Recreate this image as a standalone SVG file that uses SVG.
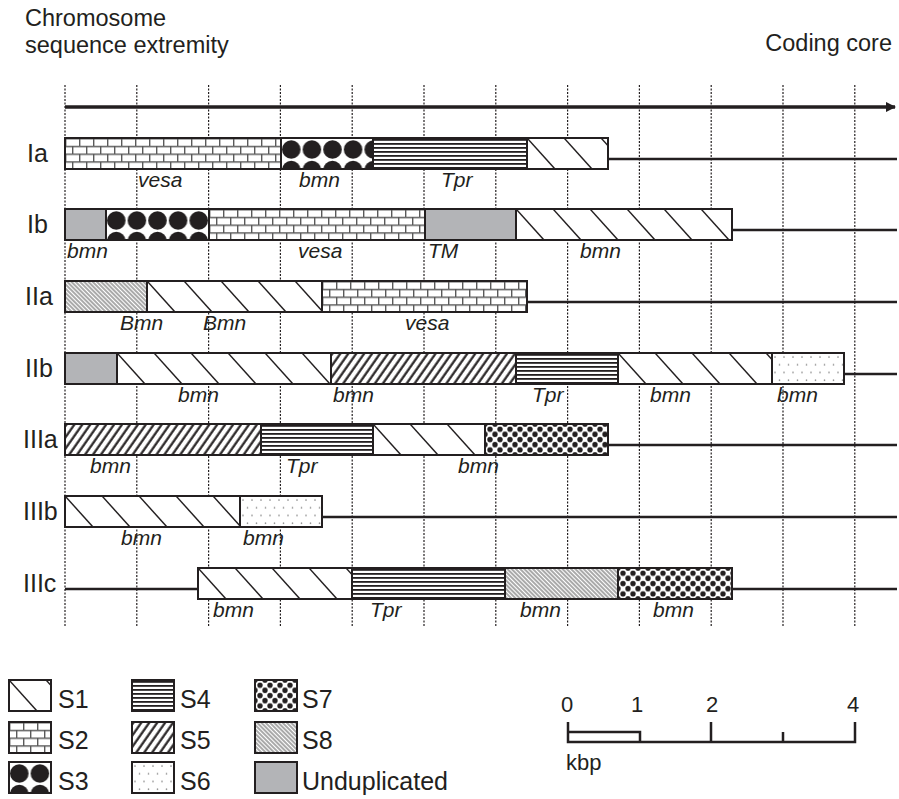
<svg xmlns="http://www.w3.org/2000/svg" width="899" height="799" viewBox="0 0 899 799">
<style>
text{font-family:"Liberation Sans",Arial,sans-serif;fill:#231f20}
.hdr{font-size:23.5px}
.rl{font-size:25px}
.gl{font-size:21px;font-style:italic}
.lg{font-size:25px}
.sc{font-size:22px}
.seg{stroke:#231f20;stroke-width:2}
.grid{stroke:#231f20;stroke-width:1.2;stroke-dasharray:2 1.5}
.rline{stroke:#231f20;stroke-width:2.5}
</style>
<defs>
<pattern id="s1" patternUnits="userSpaceOnUse" width="37" height="31">
<rect width="37" height="31" fill="#fff"/>
<line x1="0" y1="0" x2="28" y2="31" stroke="#231f20" stroke-width="1.5"/>
</pattern>
<pattern id="s2" patternUnits="userSpaceOnUse" width="14" height="15.5">
<rect width="14" height="15.5" fill="#fff"/>
<path d="M0,0.7H14M0,8.45H14M0.7,0.7V8.45M7.7,8.45V15.5" stroke="#5a5a5a" stroke-width="1.4" fill="none"/>
</pattern>
<pattern id="s3" patternUnits="userSpaceOnUse" width="20.6" height="31">
<rect width="20.6" height="31" fill="#fff"/>
<circle cx="10.3" cy="11.5" r="9.3" fill="#231f20"/>
<circle cx="10.3" cy="32" r="9.3" fill="#231f20"/>
</pattern>
<pattern id="s4" patternUnits="userSpaceOnUse" width="10" height="4">
<rect width="10" height="4" fill="#fff"/>
<rect y="1" width="10" height="1.8" fill="#231f20"/>
</pattern>
<pattern id="s5" patternUnits="userSpaceOnUse" width="6.5" height="10" patternTransform="rotate(35)">
<rect width="6.5" height="10" fill="#fff"/>
<line x1="1.5" y1="0" x2="1.5" y2="10" stroke="#231f20" stroke-width="2.2"/>
</pattern>
<pattern id="s6" patternUnits="userSpaceOnUse" width="18" height="15.5">
<rect width="18" height="15.5" fill="#fff"/>
<g fill="#8a8a8a"><circle cx="3" cy="4" r="0.8"/><circle cx="12" cy="4" r="0.8"/><circle cx="7.5" cy="11.75" r="0.8"/><circle cx="16.5" cy="11.75" r="0.8"/></g>
</pattern>
<pattern id="s7" patternUnits="userSpaceOnUse" width="10" height="10.33">
<rect width="10" height="10.33" fill="#fff"/>
<g fill="#231f20"><circle cx="0" cy="0" r="2.7"/><circle cx="10" cy="0" r="2.7"/><circle cx="0" cy="10.33" r="2.7"/><circle cx="10" cy="10.33" r="2.7"/><circle cx="5" cy="5.17" r="2.7"/></g>
</pattern>
<pattern id="s8" patternUnits="userSpaceOnUse" width="3" height="10" patternTransform="rotate(-45)">
<rect width="3" height="10" fill="#fff"/>
<line x1="1" y1="0" x2="1" y2="10" stroke="#555" stroke-width="1"/>
</pattern>
<marker id="arr" viewBox="0 0 10 10" refX="9" refY="5" markerWidth="3" markerHeight="3" orient="auto" markerUnits="strokeWidth">
<path d="M0,0L10,5L0,10z" fill="#231f20"/>
</marker>
</defs>
<rect width="899" height="799" fill="#fff"/>

<g id="header">
<text class="hdr" x="25" y="26">Chromosome</text>
<text class="hdr" x="25" y="53">sequence extremity</text>
<text class="hdr" x="892" y="51" text-anchor="end">Coding core</text>
</g>

<g id="grid">
<line class="grid" x1="65" y1="85" x2="65" y2="627"/>
<line class="grid" x1="136.8" y1="85" x2="136.8" y2="627"/>
<line class="grid" x1="208.6" y1="85" x2="208.6" y2="627"/>
<line class="grid" x1="280.4" y1="85" x2="280.4" y2="627"/>
<line class="grid" x1="352.2" y1="85" x2="352.2" y2="627"/>
<line class="grid" x1="424" y1="85" x2="424" y2="627"/>
<line class="grid" x1="495.8" y1="85" x2="495.8" y2="627"/>
<line class="grid" x1="567.6" y1="85" x2="567.6" y2="627"/>
<line class="grid" x1="639.4" y1="85" x2="639.4" y2="627"/>
<line class="grid" x1="711.2" y1="85" x2="711.2" y2="627"/>
<line class="grid" x1="783" y1="85" x2="783" y2="627"/>
<line class="grid" x1="854.8" y1="85" x2="854.8" y2="627"/>
</g>

<g id="axis">
<line x1="65" y1="107" x2="895" y2="107" stroke="#231f20" stroke-width="3.5" marker-end="url(#arr)"/>
</g>

<g id="row-Ia" transform="translate(0,138)">
<text class="rl" x="27" y="24">Ia</text>
<line class="rline" x1="608" y1="21" x2="897" y2="21"/>
<rect class="seg" transform="translate(65,0)" width="216" height="31" fill="url(#s2)"/>
<rect class="seg" transform="translate(281,0)" width="92" height="31" fill="url(#s3)"/>
<rect class="seg" transform="translate(373,0)" width="154" height="31" fill="url(#s4)"/>
<rect class="seg" transform="translate(527,0)" width="81" height="31" fill="url(#s1)"/>
<text class="gl" x="138" y="49">vesa</text>
<text class="gl" x="299" y="49">bmn</text>
<text class="gl" x="441" y="49">Tpr</text>
</g>

<g id="row-Ib" transform="translate(0,209)">
<text class="rl" x="27" y="24">Ib</text>
<line class="rline" x1="732" y1="21" x2="897" y2="21"/>
<rect class="seg" transform="translate(65,0)" width="41" height="31" fill="#b3b4b7"/>
<rect class="seg" transform="translate(106,0)" width="103" height="31" fill="url(#s3)"/>
<rect class="seg" transform="translate(209,0)" width="216" height="31" fill="url(#s2)"/>
<rect class="seg" transform="translate(425,0)" width="91" height="31" fill="#b3b4b7"/>
<rect class="seg" transform="translate(516,0)" width="216" height="31" fill="url(#s1)"/>
<text class="gl" x="67" y="49">bmn</text>
<text class="gl" x="298" y="49">vesa</text>
<text class="gl" x="428" y="49">TM</text>
<text class="gl" x="580" y="49">bmn</text>
</g>

<g id="row-IIa" transform="translate(0,281)">
<text class="rl" x="25" y="24">IIa</text>
<line class="rline" x1="527" y1="21" x2="897" y2="21"/>
<rect class="seg" transform="translate(65,0)" width="82" height="31" fill="url(#s8)"/>
<rect class="seg" transform="translate(147,0)" width="175" height="31" fill="url(#s1)"/>
<rect class="seg" transform="translate(322,0)" width="205" height="31" fill="url(#s2)"/>
<text class="gl" x="120" y="49">Bmn</text>
<text class="gl" x="203" y="49">Bmn</text>
<text class="gl" x="405" y="49">vesa</text>
</g>

<g id="row-IIb" transform="translate(0,353)">
<text class="rl" x="25" y="24">IIb</text>
<line class="rline" x1="844" y1="21" x2="897" y2="21"/>
<rect class="seg" transform="translate(65,0)" width="52" height="31" fill="#b3b4b7"/>
<rect class="seg" transform="translate(117,0)" width="214" height="31" fill="url(#s1)"/>
<rect class="seg" transform="translate(331,0)" width="185" height="31" fill="url(#s5)"/>
<rect class="seg" transform="translate(516,0)" width="102" height="31" fill="url(#s4)"/>
<rect class="seg" transform="translate(618,0)" width="154" height="31" fill="url(#s1)"/>
<rect class="seg" transform="translate(772,0)" width="72" height="31" fill="url(#s6)"/>
<text class="gl" x="178" y="49">bmn</text>
<text class="gl" x="333" y="49">bmn</text>
<text class="gl" x="532" y="49">Tpr</text>
<text class="gl" x="650" y="49">bmn</text>
<text class="gl" x="777" y="49">bmn</text>
</g>

<g id="row-IIIa" transform="translate(0,424)">
<text class="rl" x="23" y="24">IIIa</text>
<line class="rline" x1="608" y1="21" x2="897" y2="21"/>
<rect class="seg" transform="translate(65,0)" width="196" height="31" fill="url(#s5)"/>
<rect class="seg" transform="translate(261,0)" width="112" height="31" fill="url(#s4)"/>
<rect class="seg" transform="translate(373,0)" width="112" height="31" fill="url(#s1)"/>
<rect class="seg" transform="translate(485,0)" width="123" height="31" fill="url(#s7)"/>
<text class="gl" x="90" y="49">bmn</text>
<text class="gl" x="286" y="49">Tpr</text>
<text class="gl" x="458" y="49">bmn</text>
</g>

<g id="row-IIIb" transform="translate(0,496)">
<text class="rl" x="23" y="24">IIIb</text>
<line class="rline" x1="322" y1="21" x2="897" y2="21"/>
<rect class="seg" transform="translate(65,0)" width="175" height="31" fill="url(#s1)"/>
<rect class="seg" transform="translate(240,0)" width="82" height="31" fill="url(#s6)"/>
<text class="gl" x="121" y="49">bmn</text>
<text class="gl" x="243" y="49">bmn</text>
</g>

<g id="row-IIIc" transform="translate(0,568)">
<text class="rl" x="23" y="24">IIIc</text>
<line class="rline" x1="65" y1="21" x2="198" y2="21"/>
<line class="rline" x1="732" y1="21" x2="897" y2="21"/>
<rect class="seg" transform="translate(198,0)" width="154" height="31" fill="url(#s1)"/>
<rect class="seg" transform="translate(352,0)" width="153" height="31" fill="url(#s4)"/>
<rect class="seg" transform="translate(505,0)" width="113" height="31" fill="url(#s8)"/>
<rect class="seg" transform="translate(618,0)" width="114" height="31" fill="url(#s7)"/>
<text class="gl" x="213" y="49">bmn</text>
<text class="gl" x="370" y="49">Tpr</text>
<text class="gl" x="520" y="49">bmn</text>
<text class="gl" x="653" y="49">bmn</text>
</g>

<g id="legend">
<rect class="seg" transform="translate(9,680)" width="42" height="31" fill="url(#s1)"/>
<text class="lg" x="58" y="708">S1</text>
<rect class="seg" transform="translate(9,722)" width="42" height="31" fill="url(#s2)"/>
<text class="lg" x="58" y="749">S2</text>
<rect class="seg" transform="translate(9,762)" width="42" height="31" fill="url(#s3)"/>
<text class="lg" x="58" y="790">S3</text>
<rect class="seg" transform="translate(132,680)" width="42" height="31" fill="url(#s4)"/>
<text class="lg" x="180" y="708">S4</text>
<rect class="seg" transform="translate(132,722)" width="42" height="31" fill="url(#s5)"/>
<text class="lg" x="180" y="749">S5</text>
<rect class="seg" transform="translate(132,762)" width="42" height="31" fill="url(#s6)"/>
<text class="lg" x="180" y="790">S6</text>
<rect class="seg" transform="translate(255,680)" width="42" height="31" fill="url(#s7)"/>
<text class="lg" x="302" y="708">S7</text>
<rect class="seg" transform="translate(255,722)" width="42" height="31" fill="url(#s8)"/>
<text class="lg" x="302" y="749">S8</text>
<rect class="seg" transform="translate(255,762)" width="42" height="31" fill="#b3b4b7"/>
<text class="lg" x="302" y="790">Unduplicated</text>
</g>

<g id="scale">
<path d="M568,722V742H855V722M568,732H640V742M711,722V742M783,732V742" fill="none" stroke="#231f20" stroke-width="2.5"/>
<text class="sc" x="567" y="712" text-anchor="middle">0</text>
<text class="sc" x="637" y="712" text-anchor="middle">1</text>
<text class="sc" x="712" y="712" text-anchor="middle">2</text>
<text class="sc" x="853" y="712" text-anchor="middle">4</text>
<text class="sc" x="566" y="770">kbp</text>
</g>
</svg>
